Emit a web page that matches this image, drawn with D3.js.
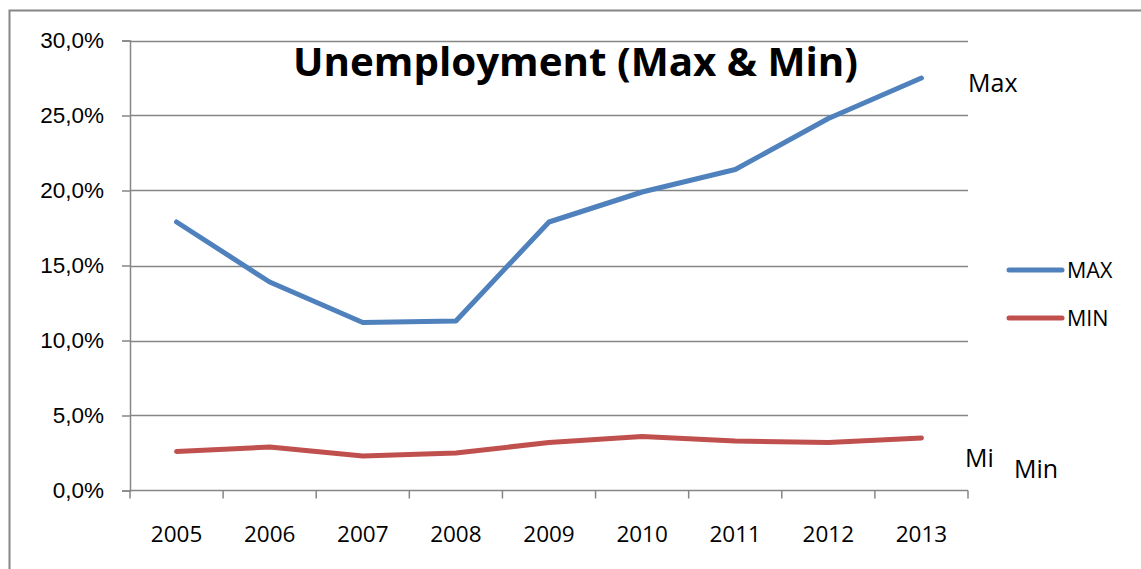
<!DOCTYPE html>
<html>
<head>
<meta charset="utf-8">
<script src="https://cdn.jsdelivr.net/npm/d3@7"></script>
<style>
  html, body { margin: 0; padding: 0; background: #fff; }
  svg { display: block; font-family: "Open Sans", sans-serif; }
</style>
</head>
<body>
<svg id="chart" width="1141" height="569"></svg>
<script>
// chart data
const years = ['2005', '2006', '2007', '2008', '2009', '2010', '2011', '2012', '2013'];
const maxValues = [0.179, 0.139, 0.112, 0.113, 0.179, 0.199, 0.214, 0.248, 0.275];
const minValues = [0.026, 0.029, 0.023, 0.025, 0.032, 0.036, 0.033, 0.032, 0.035];
const yTicks = [0, 0.05, 0.10, 0.15, 0.20, 0.25, 0.30];
const seriesNames = ['MAX', 'MIN'];

const svg = d3.select('#chart');
const margin = { left: 130, right: 968, top: 40.5, bottom: 490.5 };
const gridColor = '#868686';
const colors = { MAX: '#4f81bd', MIN: '#c0504d' };

// outer chart frame
svg.append('rect')
  .attr('x', 9.5).attr('y', 10.5)
  .attr('width', 1140).attr('height', 570)
  .attr('fill', 'none')
  .attr('stroke', gridColor)
  .attr('stroke-width', 2);

const x = d3.scaleBand()
  .domain(years)
  .range([margin.left, margin.right]);

const y = d3.scaleLinear()
  .domain([0, 0.30])
  .range([margin.bottom, margin.top]);

const pct = d => d3.format('.1f')(d * 100).replace('.', ',') + '%';

// gridlines
svg.append('g')
  .selectAll('line')
  .data(yTicks.filter(d => d > 0))
  .enter()
  .append('line')
  .attr('x1', margin.left).attr('x2', margin.right)
  .attr('y1', d => Math.round(y(d)) + 0.5)
  .attr('y2', d => Math.round(y(d)) + 0.5)
  .attr('stroke', gridColor)
  .attr('stroke-width', 1.5);

// Y axis
const yAxis = svg.append('g')
  .attr('transform', `translate(${margin.left},0)`)
  .call(d3.axisLeft(y).tickValues(yTicks).tickFormat(pct).tickSize(8).tickPadding(18));
yAxis.select('.domain').attr('stroke', gridColor).attr('stroke-width', 1.5);
yAxis.selectAll('.tick line').attr('stroke', gridColor).attr('stroke-width', 1.5);
yAxis.selectAll('.tick text')
  .attr('fill', '#000')
  .style('font-size', '22.5px')
  .attr('dy', '0.33em');

// X axis, ticks between categories
const xAxis = svg.append('g')
  .attr('transform', `translate(0,${margin.bottom})`);
xAxis.append('line')
  .attr('x1', margin.left).attr('x2', margin.right)
  .attr('stroke', gridColor).attr('stroke-width', 1.5);
xAxis.selectAll('line.tk')
  .data(years.concat(['end']))
  .enter()
  .append('line')
  .attr('class', 'tk')
  .attr('x1', (d, i) => i < years.length ? x(d) : margin.right)
  .attr('x2', (d, i) => i < years.length ? x(d) : margin.right)
  .attr('y1', 0).attr('y2', 8)
  .attr('stroke', gridColor).attr('stroke-width', 1.5);
xAxis.selectAll('text')
  .data(years)
  .enter()
  .append('text')
  .attr('x', d => x(d) + x.bandwidth() / 2)
  .attr('y', 51)
  .attr('text-anchor', 'middle')
  .style('font-size', '22.5px')
  .text(d => d);

// lines
const line = d3.line()
  .x((d, i) => x(years[i]) + x.bandwidth() / 2)
  .y(d => y(d));

[['MAX', maxValues], ['MIN', minValues]].forEach(([name, vals]) => {
  svg.append('path')
    .datum(vals)
    .attr('d', line)
    .attr('fill', 'none')
    .attr('stroke', colors[name])
    .attr('stroke-width', 5)
    .attr('stroke-linecap', 'round')
    .attr('stroke-linejoin', 'round');
});

// title
svg.append('text')
  .attr('x', 293).attr('y', 76)
  .attr('textLength', 565)
  .attr('lengthAdjust', 'spacingAndGlyphs')
  .style('font-size', '39px')
  .style('font-weight', 'bold')
  .text('Unemployment (Max & Min)');

// legend
const legend = svg.append('g');
seriesNames.forEach((name, i) => {
  const ly = 270 + i * 48;
  legend.append('line')
    .attr('x1', 1009).attr('x2', 1062)
    .attr('y1', ly).attr('y2', ly)
    .attr('stroke', colors[name])
    .attr('stroke-width', 5)
    .attr('stroke-linecap', 'round');
  legend.append('text')
    .attr('x', 1067).attr('y', ly + 8)
    .style('font-size', '21.5px')
    .text(name);
});

// free-floating labels
const notes = [
  { t: 'Max', x: 968, y: 92 },
  { t: 'Mi', x: 965, y: 467 },
  { t: 'Min', x: 1014, y: 478 }
];
svg.selectAll('text.note')
  .data(notes)
  .enter()
  .append('text')
  .attr('class', 'note')
  .attr('x', d => d.x).attr('y', d => d.y)
  .style('font-size', '25px')
  .text(d => d.t);
</script>
</body>
</html>
